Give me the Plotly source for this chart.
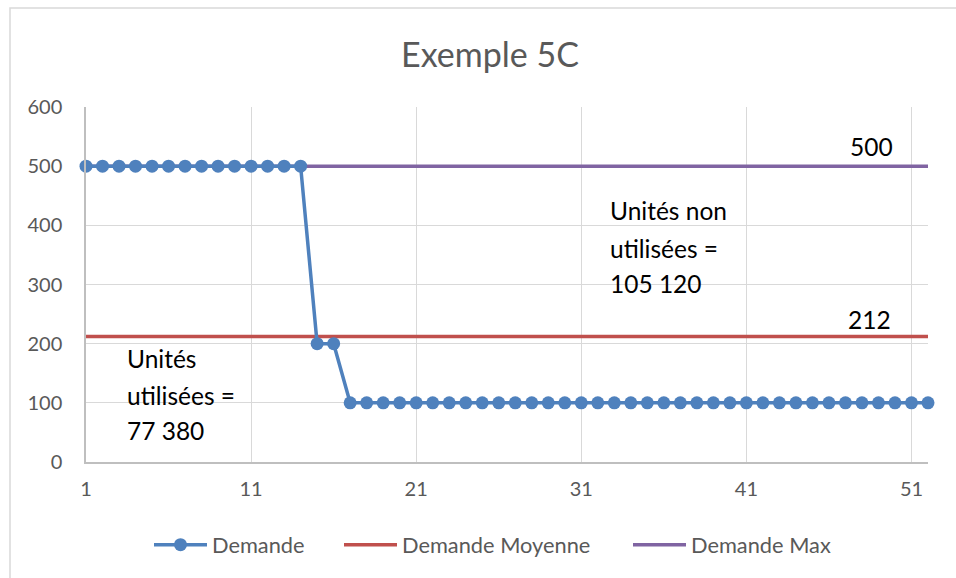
import plotly.graph_objects as go

# ---- data ----
semaines = list(range(1, 53))
demande = [500, 500, 500, 500, 500, 500, 500, 500, 500, 500, 500, 500, 500, 500,
           200, 200,
           100, 100, 100, 100, 100, 100, 100, 100, 100, 100, 100, 100,
           100, 100, 100, 100, 100, 100, 100, 100, 100, 100, 100, 100,
           100, 100, 100, 100, 100, 100, 100, 100, 100, 100, 100, 100]
demande_moyenne = [212] * 52
demande_max = [500] * 52
x_ticks = [1, 11, 21, 31, 41, 51]
y_ticks = [0, 100, 200, 300, 400, 500, 600]
texte_utilisees = ["Unités", "utilisées =", "77 380"]
texte_non_utilisees = ["Unités non", "utilisées =", "105 120"]

W, H = 956, 578
L, R, T, B = 86, 28, 107, 116
PW, PH = W - L - R, H - T - B


def px(x):
    return (x - L) / PW


def py(y):
    return (H - B - y) / PH


GRAY = "#595959"
FONT = "Lato, 'Open Sans', sans-serif"

fig = go.Figure()
fig.add_trace(go.Scatter(
    x=semaines, y=demande_moyenne, name="Demande Moyenne", mode="lines",
    line=dict(color="#C0504D", width=3.5), cliponaxis=False, legend="legend2"))
fig.add_trace(go.Scatter(
    x=semaines, y=demande_max, name="Demande Max", mode="lines",
    line=dict(color="#8064A2", width=3.5), cliponaxis=False, legend="legend3"))
fig.add_trace(go.Scatter(
    x=semaines, y=demande, name="Demande", mode="lines+markers",
    line=dict(color="#4F81BD", width=3.5),
    marker=dict(color="#4F81BD", size=13), cliponaxis=False, legend="legend"))

annotations = []
annotations.append(dict(x=px(895), xref="paper", xanchor="right",
                        y=demande_max[-1], yref="y", yanchor="bottom", yshift=3,
                        text=str(demande_max[-1]), showarrow=False,
                        font=dict(family=FONT, size=24.5, color="black")))
annotations.append(dict(x=px(893), xref="paper", xanchor="right",
                        y=demande_moyenne[-1], yref="y", yanchor="bottom", yshift=1,
                        text=str(demande_moyenne[-1]), showarrow=False,
                        font=dict(family=FONT, size=24.5, color="black")))
for txt, yc in zip(texte_utilisees, [358, 395, 430]):
    annotations.append(dict(x=px(125), xref="paper", xanchor="left",
                            y=py(yc), yref="paper", yanchor="middle",
                            text=txt, showarrow=False,
                            font=dict(family=FONT, size=24.5, color="black")))
for txt, yc in zip(texte_non_utilisees, [210, 248, 283]):
    annotations.append(dict(x=px(608), xref="paper", xanchor="left",
                            y=py(yc), yref="paper", yanchor="middle",
                            text=txt, showarrow=False,
                            font=dict(family=FONT, size=24.5, color="black")))


def legend_at(x_symbol_start):
    return dict(orientation="h", x=px(x_symbol_start - 5), xanchor="left",
                y=py(545), yanchor="middle", bgcolor="rgba(0,0,0,0)",
                font=dict(family=FONT, size=21.8, color=GRAY),
                itemwidth=53)


fig.update_layout(
    width=W, height=H,
    margin=dict(l=L, r=R, t=T, b=B),
    paper_bgcolor="white", plot_bgcolor="white",
    title=dict(text="Exemple 5C", x=490 / W, xanchor="center",
               y=1 - 55 / H, yanchor="middle",
               font=dict(family=FONT, size=34, color=GRAY)),
    showlegend=True,
    legend=legend_at(154),
    legend2=legend_at(344),
    legend3=legend_at(633),
    annotations=annotations,
    shapes=[dict(type="rect", xref="paper", yref="paper",
                 x0=px(10), x1=px(1100), y0=py(800), y1=py(8),
                 line=dict(color="#D9D9D9", width=1.5), layer="below")],
)
fig.update_xaxes(range=[1, 52], tickvals=x_ticks, ticktext=[str(v) for v in x_ticks],
                 showgrid=True, gridcolor="#D9D9D9", gridwidth=1.3,
                 showline=True, linecolor="#BFBFBF", linewidth=1.5,
                 zeroline=False, ticks="", ticklabelstandoff=8,
                 tickfont=dict(family=FONT, size=20, color=GRAY))
fig.update_yaxes(range=[0, 600], tickvals=y_ticks,
                 showgrid=True, gridcolor="#D9D9D9", gridwidth=1.3,
                 showline=True, linecolor="#BFBFBF", linewidth=1.5,
                 zeroline=False, ticks="", ticklabelstandoff=18,
                 tickfont=dict(family=FONT, size=20, color=GRAY))

fig.write_html("out.html", config={"displayModeBar": False},
               post_script="document.body.style.margin='0';")
